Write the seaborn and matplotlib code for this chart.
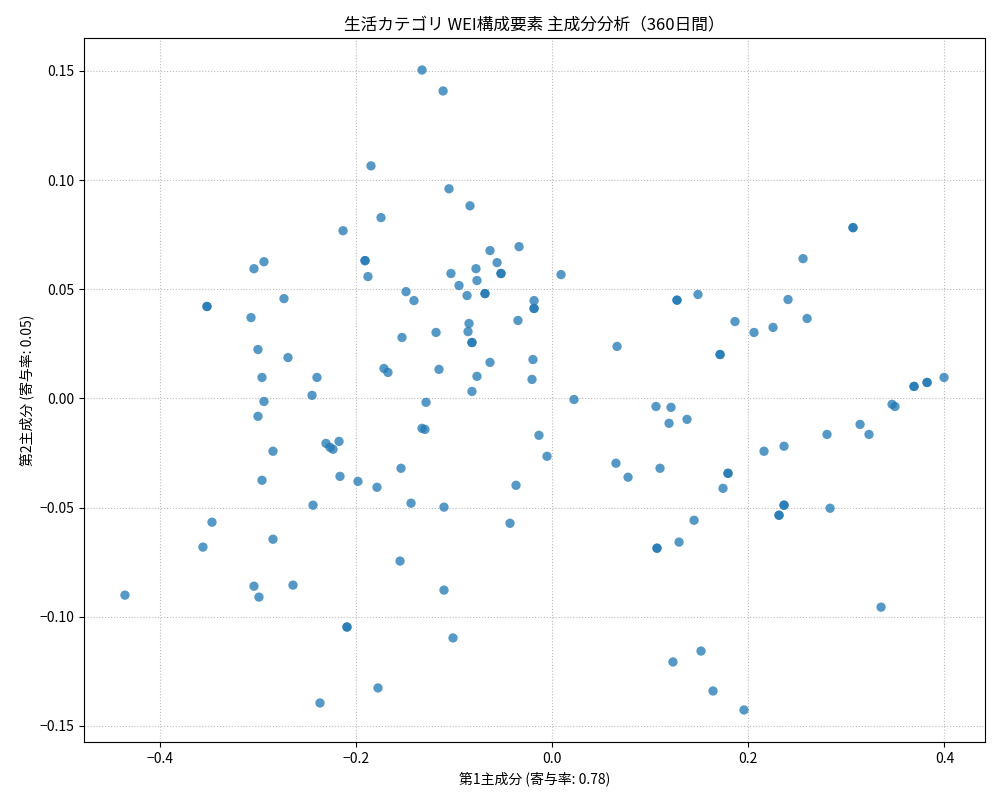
import matplotlib
matplotlib.use("Agg")
import matplotlib.pyplot as plt
import seaborn as sns
import pandas as pd

pc1 = [-0.1325,-0.111,-0.1845,-0.105,-0.0836,-0.1743,-0.213,0.3068,0.3068,-0.0336,-0.0632,-0.2936,0.2559,-0.1906,-0.1906,
       -0.056,-0.3038,-0.103,-0.0775,-0.1876,-0.0948,-0.0765,0.0092,-0.052,-0.052,-0.0683,-0.0683,-0.3517,-0.3517,-0.1488,
       -0.1407,-0.0866,-0.2732,0.1274,0.1274,0.1488,0.2406,-0.0183,-0.0183,-0.0183,-0.3068,0.26,-0.0347,-0.0846,0.1865,
       -0.1182,-0.0856,-0.1529,0.2253,0.2059,-0.0816,-0.0816,0.0663,-0.2997,-0.2691,-0.0632,-0.0194,0.1713,0.1713,-0.1152,
       -0.1713,-0.1672,-0.2956,-0.2396,-0.0765,-0.0204,0.369,0.369,0.3823,0.3823,0.3996,-0.2446,-0.0816,-0.2936,0.0224,
       -0.1284,0.3466,0.3496,-0.2997,0.106,0.1213,0.1376,0.314,0.1193,-0.1325,-0.1295,-0.0133,0.3231,0.2803,-0.2171,
       -0.2304,-0.2263,-0.2232,-0.2844,0.2365,0.2161,-0.0051,0.0652,0.1101,-0.1539,-0.2161,0.1794,0.1794,0.0775,-0.1978,
       -0.2956,-0.1784,0.1743,-0.0367,-0.1437,-0.2436,-0.1101,0.2834,0.2365,0.2365,0.2314,0.2314,0.1448,-0.3466,-0.0428,
       -0.2844,0.1295,0.107,0.107,-0.3558,-0.1549,-0.264,-0.3038,-0.1101,-0.2987,-0.4353,0.3354,-0.209,-0.209,-0.1009,
       0.1519,0.1233,-0.1774,0.1641,-0.2365,0.1957]
pc2 = [0.1504,0.1408,0.1065,0.096,0.0882,0.0828,0.0768,0.0782,0.0782,0.0695,0.0677,0.0626,0.064,0.0631,0.0631,
       0.0622,0.0594,0.0572,0.0594,0.0558,0.0517,0.054,0.0567,0.0572,0.0572,0.048,0.048,0.0421,0.0421,0.0489,
       0.0448,0.0471,0.0457,0.0450,0.0450,0.0476,0.0453,0.0448,0.0412,0.0412,0.037,0.0366,0.0357,0.0343,0.0352,
       0.0302,0.0306,0.0279,0.0325,0.0302,0.0256,0.0256,0.0238,0.0224,0.0187,0.0165,0.0178,0.0201,0.0201,0.0133,
       0.0137,0.0119,0.0096,0.0096,0.0101,0.0087,0.0055,0.0055,0.0073,0.0073,0.0096,0.0014,0.0032,-0.0014,-0.0005,
       -0.0018,-0.0027,-0.0037,-0.0082,-0.0037,-0.0041,-0.0096,-0.0119,-0.0114,-0.0137,-0.0142,-0.0169,-0.0165,-0.0165,-0.0197,
       -0.0206,-0.0224,-0.0233,-0.0242,-0.0219,-0.0242,-0.0265,-0.0297,-0.032,-0.032,-0.0357,-0.0343,-0.0343,-0.0361,-0.038,
       -0.0375,-0.0407,-0.0412,-0.0398,-0.048,-0.0489,-0.0498,-0.0503,-0.0489,-0.0489,-0.0535,-0.0535,-0.0558,-0.0567,-0.0572,
       -0.0645,-0.0658,-0.0686,-0.0686,-0.0681,-0.0745,-0.0855,-0.086,-0.0878,-0.091,-0.0901,-0.0956,-0.1047,-0.1047,-0.1097,
       -0.1157,-0.1207,-0.1326,-0.134,-0.1395,-0.1427]

df = pd.DataFrame({"pc1": pc1, "pc2": pc2})

plt.rcParams['font.family'] = ['Noto Sans CJK JP', 'DejaVu Sans']
fig, ax = plt.subplots(figsize=(10, 8), dpi=100)
sns.scatterplot(data=df, x="pc1", y="pc2", ax=ax, color="#1f77b4", alpha=0.75, s=45, edgecolor="none")
ax.grid(True, linestyle=":", color="#bbbbbb")
ax.set_axisbelow(True)
ax.set_title("生活カテゴリ WEI構成要素 主成分分析（360日間）", fontsize=12)
ax.set_xlabel("第1主成分 (寄与率: 0.78)")
ax.set_ylabel("第2主成分 (寄与率: 0.05)")
fig.subplots_adjust(left=0.084, right=0.985, top=0.9525, bottom=0.0725)
fig.savefig("out.png", dpi=100)
